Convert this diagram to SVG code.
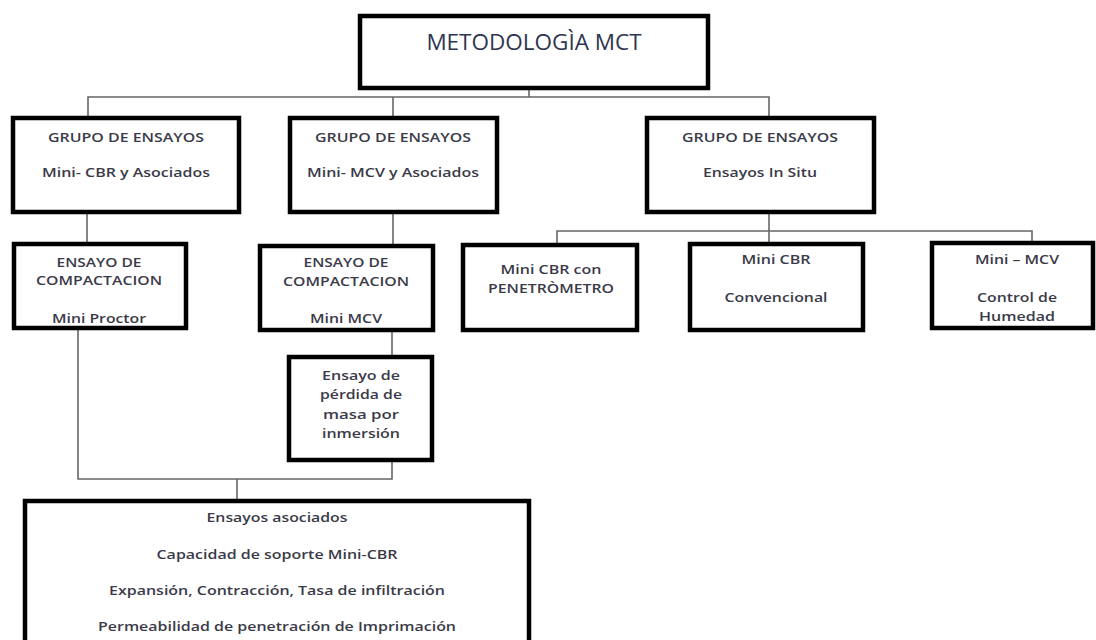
<svg xmlns="http://www.w3.org/2000/svg" width="1096" height="640" viewBox="0 0 1096 640">
<style>
.box{fill:#fff;stroke:#000;stroke-width:4.5}
.t{font-family:"Open Sans","Liberation Sans",sans-serif;font-size:13.2px;font-weight:600;fill:#3a3a48;text-anchor:middle}
.title{font-family:"Open Sans","Liberation Sans",sans-serif;font-size:22.5px;fill:#2e3550;text-anchor:middle}
.c{fill:none;stroke:#666;stroke-width:1.6}
</style>
<rect width="1096" height="640" fill="#fff"/>
<g id="connectors">
<polyline class="c" points="529,88 529,97"/>
<polyline class="c" points="88,118 88,97 769,97 769,118"/>
<polyline class="c" points="393,97 393,118"/>
<polyline class="c" points="87,212 87,244"/>
<polyline class="c" points="393,212 393,246"/>
<polyline class="c" points="769,212 769,244"/>
<polyline class="c" points="557,245 557,231 1032,231 1032,243"/>
<polyline class="c" points="392,330 392,357"/>
<polyline class="c" points="78,328 78,479 392,479 392,460"/>
<polyline class="c" points="237,479 237,501"/>
</g>
<g id="n-root">
<rect class="box" x="360" y="16" width="348" height="72"/>
<text class="title" x="534" y="50">METODOLOGÌA MCT</text>
</g>
<g id="n-g1">
<rect class="box" x="13" y="118" width="226" height="94"/>
<text class="t" x="126" y="142" textLength="156" lengthAdjust="spacingAndGlyphs">GRUPO DE ENSAYOS</text>
<text class="t" x="126" y="177" textLength="168" lengthAdjust="spacingAndGlyphs">Mini- CBR y Asociados</text>
</g>
<g id="n-g2">
<rect class="box" x="290" y="118" width="207" height="94"/>
<text class="t" x="393" y="142" textLength="156" lengthAdjust="spacingAndGlyphs">GRUPO DE ENSAYOS</text>
<text class="t" x="393" y="177" textLength="172" lengthAdjust="spacingAndGlyphs">Mini- MCV y Asociados</text>
</g>
<g id="n-g3">
<rect class="box" x="647" y="118" width="227" height="94"/>
<text class="t" x="760" y="142" textLength="156" lengthAdjust="spacingAndGlyphs">GRUPO DE ENSAYOS</text>
<text class="t" x="760" y="177" textLength="114" lengthAdjust="spacingAndGlyphs">Ensayos In Situ</text>
</g>
<g id="n-proctor">
<rect class="box" x="14" y="244" width="172" height="84"/>
<text class="t" x="99" y="267" textLength="85" lengthAdjust="spacingAndGlyphs">ENSAYO DE</text>
<text class="t" x="99" y="285" textLength="126" lengthAdjust="spacingAndGlyphs">COMPACTACION</text>
<text class="t" x="99" y="323" textLength="94" lengthAdjust="spacingAndGlyphs">Mini Proctor</text>
</g>
<g id="n-mcv">
<rect class="box" x="260" y="246" width="173" height="84"/>
<text class="t" x="346" y="267" textLength="85" lengthAdjust="spacingAndGlyphs">ENSAYO DE</text>
<text class="t" x="346" y="286" textLength="126" lengthAdjust="spacingAndGlyphs">COMPACTACION</text>
<text class="t" x="346" y="323" textLength="72" lengthAdjust="spacingAndGlyphs">Mini MCV</text>
</g>
<g id="n-pen">
<rect class="box" x="463" y="245" width="174" height="85"/>
<text class="t" x="551" y="274" textLength="101" lengthAdjust="spacingAndGlyphs">Mini CBR con</text>
<text class="t" x="551" y="293" textLength="126" lengthAdjust="spacingAndGlyphs">PENETRÒMETRO</text>
</g>
<g id="n-conv">
<rect class="box" x="690" y="244" width="173" height="86"/>
<text class="t" x="776" y="264" textLength="69" lengthAdjust="spacingAndGlyphs">Mini CBR</text>
<text class="t" x="776" y="302" textLength="103" lengthAdjust="spacingAndGlyphs">Convencional</text>
</g>
<g id="n-hum">
<rect class="box" x="932" y="243" width="161" height="85"/>
<text class="t" x="1017" y="264" textLength="84" lengthAdjust="spacingAndGlyphs">Mini – MCV</text>
<text class="t" x="1017" y="302" textLength="80" lengthAdjust="spacingAndGlyphs">Control de</text>
<text class="t" x="1017" y="321" textLength="76" lengthAdjust="spacingAndGlyphs">Humedad</text>
</g>
<g id="n-perdida">
<rect class="box" x="289" y="357" width="143" height="103"/>
<text class="t" x="361" y="380" textLength="78" lengthAdjust="spacingAndGlyphs">Ensayo de</text>
<text class="t" x="361" y="399" textLength="82" lengthAdjust="spacingAndGlyphs">pérdida de</text>
<text class="t" x="361" y="419" textLength="76" lengthAdjust="spacingAndGlyphs">masa por</text>
<text class="t" x="361" y="438" textLength="78" lengthAdjust="spacingAndGlyphs">inmersión</text>
</g>
<g id="n-asoc">
<rect class="box" x="25" y="501" width="504" height="150"/>
<text class="t" x="277" y="522" textLength="141" lengthAdjust="spacingAndGlyphs">Ensayos asociados</text>
<text class="t" x="277" y="559" textLength="241" lengthAdjust="spacingAndGlyphs">Capacidad de soporte Mini-CBR</text>
<text class="t" x="277" y="595" textLength="336" lengthAdjust="spacingAndGlyphs">Expansión, Contracción, Tasa de infiltración</text>
<text class="t" x="277" y="631" textLength="358" lengthAdjust="spacingAndGlyphs">Permeabilidad de penetración de Imprimación</text>
</g>
</svg>
